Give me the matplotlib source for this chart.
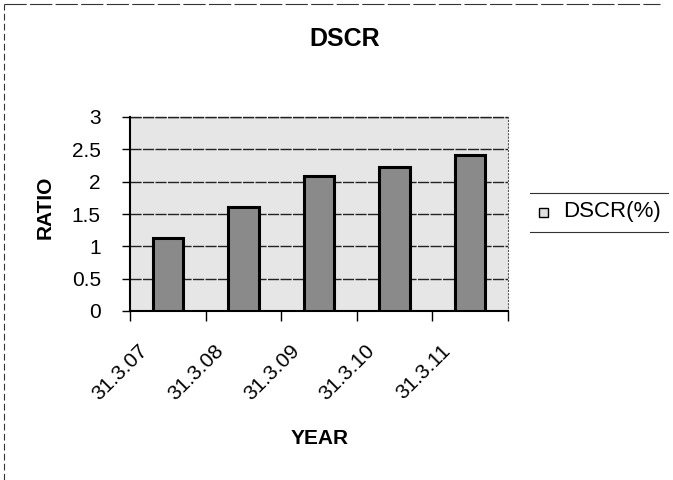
import numpy as np
import matplotlib.pyplot as plt
import matplotlib.transforms as mtransforms
from matplotlib.patches import Rectangle
from matplotlib.lines import Line2D

years = ['31.3.07', '31.3.08', '31.3.09', '31.3.10', '31.3.11']
dscr = [1.13, 1.61, 2.08, 2.23, 2.42]

W, H = 673, 480
fig = plt.figure(figsize=(W / 100, H / 100), dpi=100)
ax = fig.add_axes([130 / W, 1 - 311 / H, 378 / W, 194 / H])
ax.set_facecolor('#e6e6e6')

x = np.arange(len(years))
ax.bar(x, dscr, width=0.4, color='#8a8a8a', edgecolor='black',
       linewidth=2.2, zorder=3, label='DSCR(%)')

ax.set_xlim(-0.5, len(years) - 0.5)
ax.set_ylim(0, 3)
ax.set_yticks(np.arange(0, 3.01, 0.5))
ax.set_yticklabels(['0', '0.5', '1', '1.5', '2', '2.5', '3'], fontsize=15,
                   family='Liberation Sans')
ax.yaxis.grid(True, color='#222222', linewidth=1.0, linestyle=(0, (8, 1)))
ax.axhline(3, color='#222222', linewidth=1.0, linestyle=(0, (8, 1)), clip_on=False)
ax.set_axisbelow(True)

# category labels, boundary ticks between categories
ax.set_xticks(x)
ax.set_xticklabels(years, rotation=45, ha='right', va='top',
                   fontsize=15, family='Liberation Sans')
ax.tick_params(axis='x', length=0, pad=22)
shift = mtransforms.ScaledTranslation(-16 / 100, 0, fig.dpi_scale_trans)
for lbl in ax.get_xticklabels():
    lbl.set_transform(lbl.get_transform() + shift)
ax.set_xticks(np.arange(-0.5, len(years)), minor=True)
ax.tick_params(axis='x', which='minor', length=7, width=1)
ax.tick_params(axis='y', length=6, width=1, pad=15)

ax.spines['top'].set_visible(False)
ax.spines['right'].set_linestyle((0, (1, 2)))
ax.spines['right'].set_linewidth(0.8)
ax.spines['right'].set_color('#555555')
ax.spines['left'].set_linewidth(1.5)
ax.spines['bottom'].set_linewidth(1.5)

fig.text(345 / W, 1 - 39 / H, 'DSCR', fontsize=18, fontweight='bold',
         family='Liberation Sans', ha='center', va='center')
fig.text(45 / W, 1 - 207 / H, 'RATIO', fontsize=15, fontweight='bold',
         family='Liberation Sans', rotation=90, ha='center', va='center')
fig.text(320 / W, 1 - 438 / H, 'YEAR', fontsize=15, fontweight='bold',
         family='Liberation Sans', ha='center', va='center')

# legend: swatch and label between two rules
fig.add_artist(Rectangle((539 / W, 1 - 217 / H), 9 / W, 9 / H, facecolor='#e0e0e0',
                         edgecolor='black', linewidth=1.0))
fig.text(563 / W, 1 - 212 / H, 'DSCR(%)', fontsize=16, va='center', ha='left',
         family='Liberation Sans')
fig.add_artist(Line2D([530 / W, 668 / W], [1 - 193 / H, 1 - 193 / H], color='#333333', lw=0.8))
fig.add_artist(Line2D([530 / W, 668 / W], [1 - 232 / H, 1 - 232 / H], color='#333333', lw=0.8))

# outer frame, top and left edges
fig.add_artist(Line2D([4 / W, 660 / W], [1 - 4 / H, 1 - 4 / H], color='#333333', lw=0.8,
                      linestyle=(0, (20, 3))))
fig.add_artist(Line2D([4 / W, 4 / W], [0.0, 1 - 4 / H], color='#333333', lw=0.8,
                      linestyle=(0, (6, 3))))

fig.savefig('out.png', dpi=100)
